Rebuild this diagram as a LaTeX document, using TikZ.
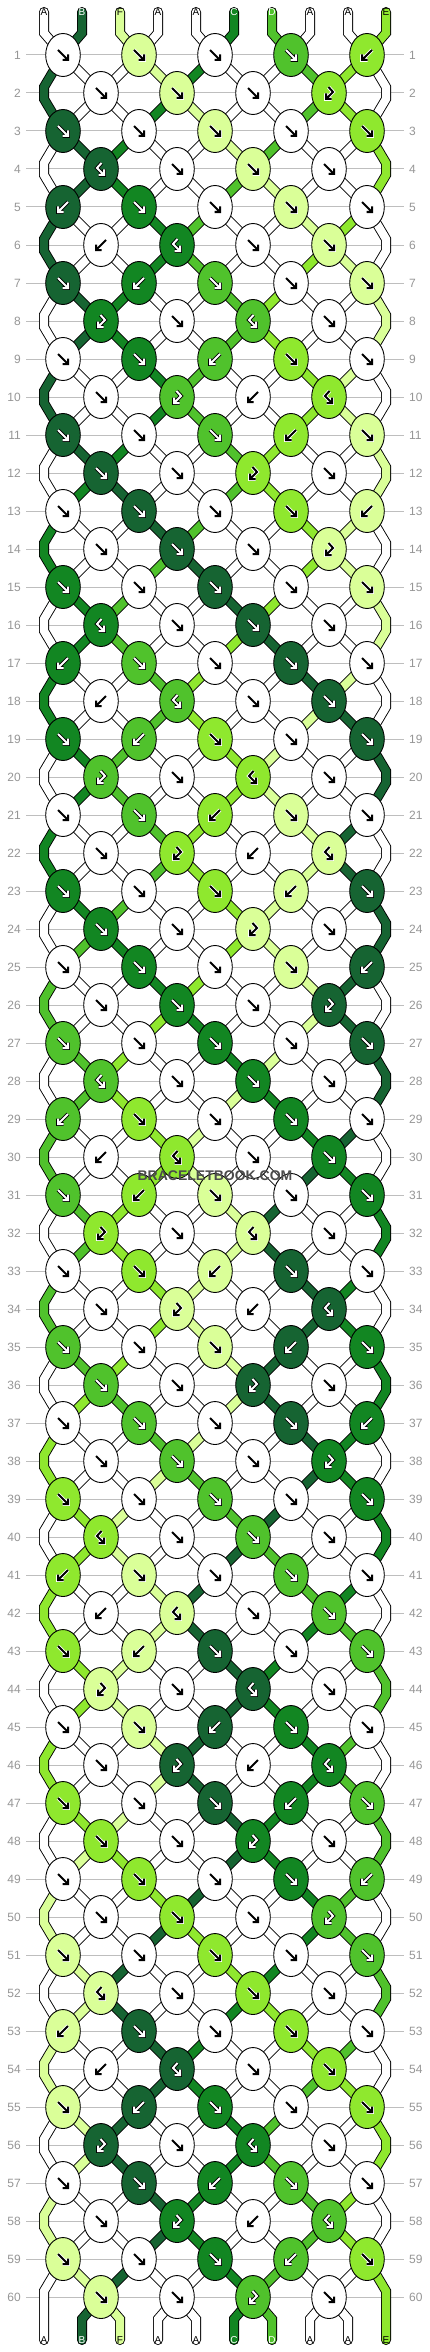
\documentclass[tikz,border=0pt]{standalone}
\usepackage{fontspec}
\setmainfont{Liberation Sans}
\usetikzlibrary{shapes.geometric}
\definecolor{cA}{RGB}{255,255,255}
\definecolor{cB}{RGB}{22,100,50}
\definecolor{cC}{RGB}{18,134,34}
\definecolor{cD}{RGB}{80,194,44}
\definecolor{cE}{RGB}{143,232,46}
\definecolor{cF}{RGB}{218,255,152}
\definecolor{tA}{RGB}{0,0,0}
\definecolor{tB}{RGB}{255,255,255}
\definecolor{tC}{RGB}{255,255,255}
\definecolor{tD}{RGB}{255,255,255}
\definecolor{tE}{RGB}{0,0,0}
\definecolor{tF}{RGB}{0,0,0}
\definecolor{gridgray}{RGB}{190,190,190}
\definecolor{numgray}{RGB}{150,150,150}
\definecolor{wmgray}{RGB}{75,75,75}
\newcommand\bbset[2]{\expandafter\xdef\csname bbS@#1\endcsname{#2}}
\newcommand\bbget[1]{\csname bbS@#1\endcsname}
\def\bbghA{white}\def\bbgmA{black}
\def\bbghB{black}\def\bbgmB{white}
\def\bbghC{black}\def\bbgmC{white}
\def\bbghD{black}\def\bbgmD{white}
\def\bbghE{white}\def\bbgmE{black}
\def\bbghF{white}\def\bbgmF{black}
\newcommand\bbgdraw[2]{%
  \edef\bbhalo{\csname bbgh#1\endcsname}%
  \edef\bbmain{\csname bbgm#1\endcsname}%
  \draw[line width=3.8pt,draw=\bbhalo,line cap=square,line join=miter] #2;
  \draw[line width=2pt,draw=\bbmain,line cap=square,line join=miter] #2;}
\expandafter\def\csname bbglyph0\endcsname#1{\bbgdraw{#1}{(-5,-5)--(5,5) (5,-0.5)--(5,5)--(-0.5,5)}}
\expandafter\def\csname bbglyph1\endcsname#1{\bbgdraw{#1}{(5,-5)--(-5,5) (-5,-0.5)--(-5,5)--(0.5,5)}}
\expandafter\def\csname bbglyph2\endcsname#1{\bbgdraw{#1}{(0.5,-6)--(-4,-1)--(3,6) (3,0.5)--(3,6)--(-2.5,6)}}
\expandafter\def\csname bbglyph3\endcsname#1{\bbgdraw{#1}{(-0.5,-6)--(4,-1)--(-3,6) (-3,0.5)--(-3,6)--(2.5,6)}}
% knot types: 0 forward, 1 backward, 2 forward-backward, 3 backward-forward
\expandafter\def\csname bbpat1\endcsname{0,0,0,0,1}
\expandafter\def\csname bbpat2\endcsname{0,0,0,3}
\expandafter\def\csname bbpat3\endcsname{0,0,0,0,0}
\expandafter\def\csname bbpat4\endcsname{2,0,0,0}
\expandafter\def\csname bbpat5\endcsname{1,0,0,0,0}
\expandafter\def\csname bbpat6\endcsname{1,2,0,0}
\expandafter\def\csname bbpat7\endcsname{0,1,0,0,0}
\expandafter\def\csname bbpat8\endcsname{3,0,2,0}
\expandafter\def\csname bbpat9\endcsname{0,0,1,0,0}
\expandafter\def\csname bbpat10\endcsname{0,3,1,2}
\expandafter\def\csname bbpat11\endcsname{0,0,0,1,0}
\expandafter\def\csname bbpat12\endcsname{0,0,3,0}
\tikzset{
  knot/.style={ellipse,draw=black,line width=0.9pt,minimum width=34.6pt,minimum height=43pt,inner sep=0pt},
  tubeout/.style={line width=10pt,draw=black,line cap=round,line join=miter},
  tubefill/.style={line width=8.2pt,line cap=round,line join=miter},
  rowline/.style={draw=gridgray,line width=1pt},
  rownum/.style={text=numgray,font=\fontsize{12}{12}\selectfont,inner sep=0pt},
  lab/.style={font=\fontsize{10}{10}\selectfont,inner sep=0pt},
  wm/.style={font=\fontsize{14}{14}\selectfont\bfseries,text=wmgray,inner sep=0pt}
}
\def\bbmode{1}
\newcommand\tube[2]{%
  \ifnum\bbmode=1 \draw[tubeout] #2;\fi
  \ifnum\bbmode=2 \draw[tubefill,draw=c#1] #2;\fi}
\newcommand\bbpass{%
  \foreach \bbc [count=\j from 0] in {A,B,F,A,A,C,D,A,A,E}{\bbset{\j}{\bbc}}
  \foreach \j in {0,...,9}{
    \pgfmathtruncatemacro\kt{int(\j/2)+1}
    \edef\bbcc{\bbget{\j}}
    \tube{\bbcc}{(T-\j) -- (T2-\j) -- (K-1-\kt)}
    \ifnum\bbmode=3 \node[lab,text=t\bbcc] (LT-\j) at (T-\j) {\bbcc};\fi
  }
  \foreach \rr in {1,...,60}{
    \pgfmathtruncatemacro\od{mod(\rr,2)}
    \pgfmathtruncatemacro\pp{mod(\rr-1,12)+1}
    \pgfmathtruncatemacro\rn{\rr+1}
    \pgfmathtruncatemacro\rnn{\rr+2}
    \edef\plist{\csname bbpat\pp\endcsname}
    \foreach \bbt [count=\kk] in \plist {
      \pgfmathtruncatemacro\iL{\od==1 ? 2*\kk-2 : 2*\kk-1}
      \pgfmathtruncatemacro\iR{\iL+1}
      \edef\bblc{\bbget{\iL}}\edef\bbrc{\bbget{\iR}}
      \ifcase\bbt
        \let\bbkc\bblc \let\bbnl\bbrc \let\bbnr\bblc
      \or
        \let\bbkc\bbrc \let\bbnl\bbrc \let\bbnr\bblc
      \or
        \let\bbkc\bblc \let\bbnl\bblc \let\bbnr\bbrc
      \or
        \let\bbkc\bbrc \let\bbnl\bblc \let\bbnr\bbrc
      \fi
      \bbset{\iL}{\bbnl}\bbset{\iR}{\bbnr}
      \ifnum\bbmode=3
        \node[knot,fill=c\bbkc] (N-\rr-\kk) at (K-\rr-\kk) {};
        \begin{scope}[shift={(K-\rr-\kk)}]
          \csname bbglyph\bbt\endcsname{\bbkc}
        \end{scope}
      \else
      % lower-left string
      \ifnum\rr=60
        \pgfmathtruncatemacro\jb{2*\kk-1}
        \tube{\bbnl}{(K-\rr-\kk) -- (B2-\jb) -- (B-\jb)}
      \else
        \ifnum\od=1
          \ifnum\kk=1
            \ifnum\rr=59
              \tube{\bbnl}{(K-\rr-1) -- (EL-60-a) -- (B-0)}
            \else
              \tube{\bbnl}{(K-\rr-1) -- (EL-\rn-a) -- (EL-\rn-b) -- (K-\rnn-1)}
            \fi
          \else
            \pgfmathtruncatemacro\kl{\kk-1}
            \tube{\bbnl}{(K-\rr-\kk) -- (K-\rn-\kl)}
          \fi
        \else
          \tube{\bbnl}{(K-\rr-\kk) -- (K-\rn-\kk)}
        \fi
      \fi
      % lower-right string
      \ifnum\rr=60
        \pgfmathtruncatemacro\jb{2*\kk}
        \tube{\bbnr}{(K-\rr-\kk) -- (B2-\jb) -- (B-\jb)}
      \else
        \ifnum\od=1
          \ifnum\kk=5
            \ifnum\rr=59
              \tube{\bbnr}{(K-\rr-5) -- (ER-60-a) -- (B-9)}
            \else
              \tube{\bbnr}{(K-\rr-5) -- (ER-\rn-a) -- (ER-\rn-b) -- (K-\rnn-5)}
            \fi
          \else
            \tube{\bbnr}{(K-\rr-\kk) -- (K-\rn-\kk)}
          \fi
        \else
          \pgfmathtruncatemacro\kr{\kk+1}
          \tube{\bbnr}{(K-\rr-\kk) -- (K-\rn-\kr)}
        \fi
      \fi
      \fi
    }
  }
  \ifnum\bbmode=3
    \foreach \j in {0,...,9}{
      \edef\bbcc{\bbget{\j}}
      \node[lab,text=t\bbcc] (LB-\j) at (B-\j) {\bbcc};
    }
  \fi
}
\begin{document}
\begin{tikzpicture}[x=1pt,y=-1pt]
\useasboundingbox (0,0) rectangle (430,2352);
\fill[white] (0,0) rectangle (430,2352);
\foreach \rr in {1,...,60}{
  \pgfmathsetmacro\y{55+38*(\rr-1)}
  \draw[rowline] (26,\y) -- (404,\y);
  \node[rownum,anchor=east] (NL-\rr) at (21,\y) {\rr};
  \node[rownum,anchor=west] (NR-\rr) at (409,\y) {\rr};
}
% coordinates of knots and edge bends
\foreach \rr in {1,...,60}{
  \pgfmathtruncatemacro\od{mod(\rr,2)}
  \pgfmathsetmacro\y{55+38*(\rr-1)}
  \ifnum\od=1
    \foreach \kk in {1,...,5}{\coordinate (K-\rr-\kk) at ({63+76*(\kk-1)},\y);}
  \else
    \foreach \kk in {1,...,4}{\coordinate (K-\rr-\kk) at ({101+76*(\kk-1)},\y);}
    \coordinate (EL-\rr-a) at (44,\y-6);
    \coordinate (EL-\rr-b) at (44,\y+6);
    \coordinate (ER-\rr-a) at (386,\y-6);
    \coordinate (ER-\rr-b) at (386,\y+6);
  \fi
}
\foreach \j in {0,...,9}{
  \coordinate (T-\j) at ({44+38*\j},12);
  \coordinate (T2-\j) at ({44+38*\j},33);
  \coordinate (B-\j) at ({44+38*\j},2340);
  \coordinate (B2-\j) at ({44+38*\j},2319);
}
\def\bbmode{1}\bbpass
\def\bbmode{2}\bbpass
\def\bbmode{3}\bbpass
\node[wm] (WM) at (215,1176) {BRACELETBOOK.COM};
\end{tikzpicture}
\end{document}
